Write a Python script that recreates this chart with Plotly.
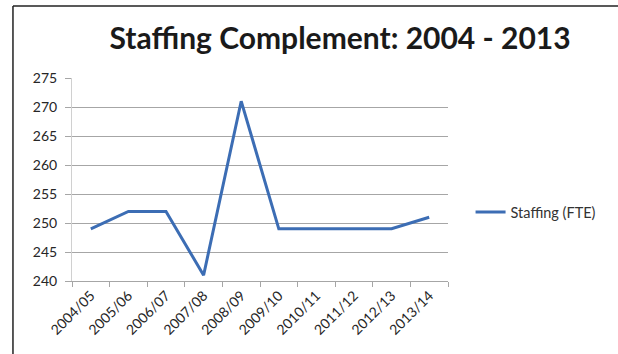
import plotly.graph_objects as go

years = ["2004/05", "2005/06", "2006/07", "2007/08", "2008/09",
         "2009/10", "2010/11", "2011/12", "2012/13", "2013/14"]
staffing_fte = [249, 252, 252, 241, 271, 249, 249, 249, 249, 251]
y_ticks = [240, 245, 250, 255, 260, 265, 270, 275]

fig = go.Figure()
fig.add_trace(go.Scatter(
    x=years, y=staffing_fte, mode="lines", name="Staffing (FTE)",
    line=dict(color="#3c6db4", width=3),
))

font_family = "Lato, 'Open Sans', sans-serif"

fig.update_layout(
    width=618, height=354,
    margin=dict(l=72, r=170, t=78, b=73),
    paper_bgcolor="white", plot_bgcolor="white",
    font=dict(family=font_family, size=14, color="#262626"),
    title=dict(text="<b>Staffing Complement: 2004 - 2013</b>",
               x=0.713, xref="paper", xanchor="center",
               y=0.89, yanchor="middle",
               font=dict(size=30, color="#1a1a1a", family=font_family)),
    showlegend=True,
    legend=dict(x=1.06, y=0.34, xanchor="left", yanchor="middle",
                font=dict(size=14.5, color="#333333"),
                bgcolor="rgba(0,0,0,0)"),
    xaxis=dict(
        type="category", range=[-0.5, 9.5], tickson="boundaries",
        showgrid=False, showline=True, linecolor="#a6a6a6", linewidth=1,
        ticks="outside", ticklen=5, tickcolor="#a6a6a6",
        tickangle=-45, tickfont=dict(size=14, color="#262626"),
    ),
    yaxis=dict(
        range=[240, 275], tickvals=y_ticks, showgrid=True,
        gridcolor="#a6a6a6", gridwidth=1, zeroline=False,
        showline=True, linecolor="#d0d0d0", linewidth=1,
        ticks="outside", ticklen=6, tickcolor="#a6a6a6",
        ticklabelstandoff=5,
        tickfont=dict(size=14, color="#262626"),
    ),
    shapes=[
        dict(type="line", xref="paper", yref="paper",
             x0=-0.157, x1=1.5, y0=1.355, y1=1.355,
             line=dict(color="#222222", width=1.5)),
        dict(type="line", xref="paper", yref="paper",
             x0=-0.157, x1=-0.157, y0=1.355, y1=-0.4,
             line=dict(color="#222222", width=1.5)),
    ],
)

fig.write_html("out.html")
